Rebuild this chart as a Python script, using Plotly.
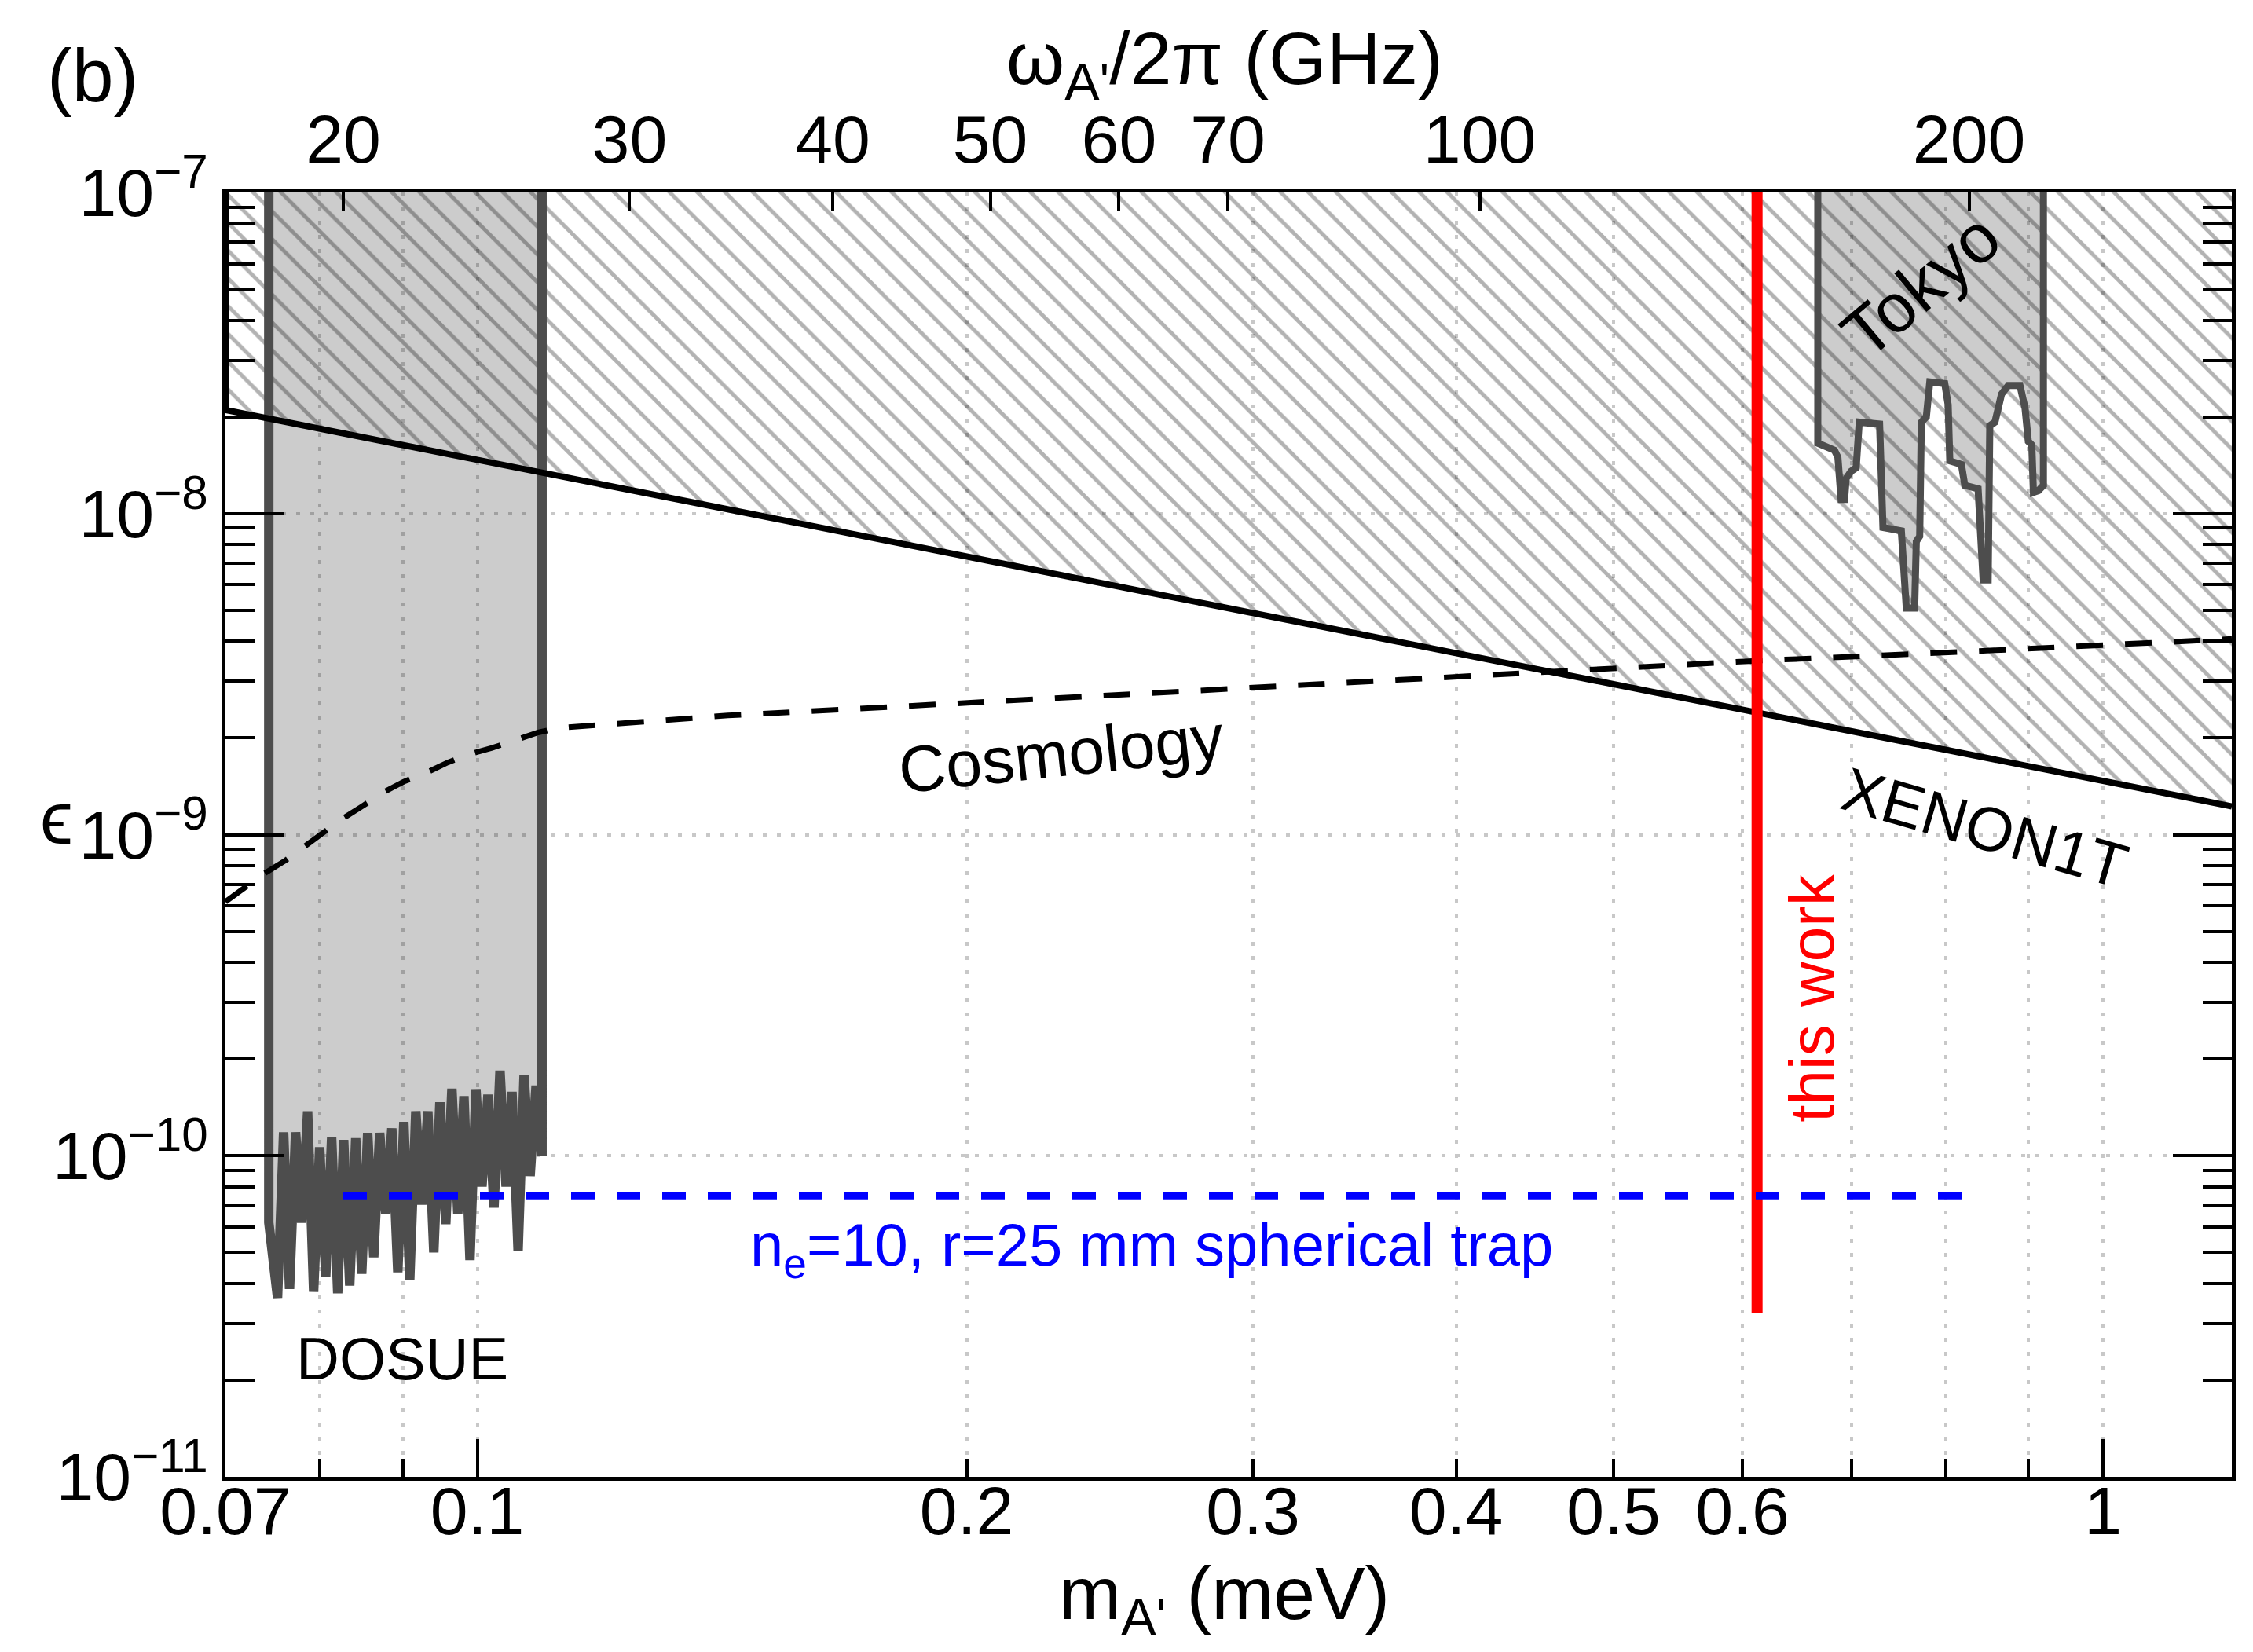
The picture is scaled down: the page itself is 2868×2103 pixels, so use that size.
import math
import plotly.graph_objects as go

FONT = "Liberation Sans, Arial, Helvetica, sans-serif"
GHZ_PER_MEV = 241.799

# ---------------- axes ----------------
mass_range = [0.07, 1.2]          # meV
eps_range = [1e-11, 1e-7]

mass_ticks = [0.07, 0.1, 0.2, 0.3, 0.4, 0.5, 0.6, 1.0]
mass_ticklabels = ["0.07", "0.1", "0.2", "0.3", "0.4", "0.5", "0.6", "1"]
mass_minor = [0.08, 0.09, 0.7, 0.8, 0.9]
mass_long_ticks = [0.1, 1.0]

freq_ticks = [20, 30, 40, 50, 60, 70, 100, 200]      # GHz
freq_ticklabels = ["20", "30", "40", "50", "60", "70", "100", "200"]

eps_ticks = [1e-11, 1e-10, 1e-9, 1e-8, 1e-7]
eps_ticklabels = ["10<sup>−11</sup>", "10<sup>−10</sup>", "10<sup>−9</sup>",
                  "10<sup>−8</sup>", "10<sup>−7</sup>"]
eps_minor_mult = [2, 3, 4, 5, 6, 7, 8, 9]
eps_decades = [1e-11, 1e-10, 1e-9, 1e-8]

# ---------------- data ----------------
# XENON1T limit (excluded region above)
xenon_m = [0.07, 0.1, 0.2, 0.3, 0.5, 0.7, 1.0, 1.2]
xenon_eps = [2.1e-8, 1.47e-8, 7.35e-9, 4.9e-9, 2.94e-9, 2.1e-9, 1.47e-9, 1.225e-9]

# Cosmology bound (dashed)
cosmo_m = [0.07, 0.0738, 0.0762, 0.0782, 0.0803, 0.0825, 0.085, 0.0874, 0.0901,
           0.093, 0.0959, 0.0987, 0.1021, 0.1054, 0.109, 0.1123, 0.1183, 0.1426,
           0.1993, 0.3008, 0.457, 0.613, 0.857, 1.2]
cosmo_eps = [6.18e-10, 7.52e-10, 8.31e-10, 9.16e-10, 1.016e-9, 1.116e-9, 1.227e-9,
             1.348e-9, 1.462e-9, 1.557e-9, 1.678e-9, 1.775e-9, 1.862e-9, 1.96e-9,
             2.08e-9, 2.15e-9, 2.19e-9, 2.35e-9, 2.57e-9, 2.88e-9, 3.21e-9, 3.48e-9,
             3.75e-9, 4.07e-9]

# DOSUE excluded region (noisy lower edge)
dosue_m = [0.07443, 0.07443,
           0.07536, 0.07601, 0.07665, 0.07731, 0.07797, 0.07864, 0.07931, 0.07999,
           0.08068, 0.08136, 0.08206, 0.08276, 0.08347, 0.08418, 0.08490, 0.08562,
           0.08636, 0.08709, 0.08784, 0.08860, 0.08935, 0.09012, 0.09088, 0.09166,
           0.09244, 0.09324, 0.09403, 0.09484, 0.09564, 0.09647, 0.09728, 0.09813,
           0.09897, 0.09981, 0.10067, 0.10152, 0.10240, 0.10327, 0.10416, 0.10504,
           0.10595, 0.10685, 0.10777, 0.10868,
           0.1096, 0.1096]
dosue_eps = [1e-7, 6.2e-11,
             3.61e-11, 1.183e-10, 3.85e-11, 1.183e-10, 6.19e-11, 1.375e-10, 3.77e-11,
             1.062e-10, 4.20e-11, 1.138e-10, 3.73e-11, 1.12e-10, 3.94e-11, 1.133e-10,
             4.29e-11, 1.178e-10, 4.83e-11, 1.178e-10, 6.61e-11, 1.216e-10, 4.34e-11,
             1.275e-10, 4.11e-11, 1.375e-10, 7.05e-11, 1.375e-10, 5.00e-11, 1.467e-10,
             6.13e-11, 1.616e-10, 6.61e-11, 1.532e-10, 4.73e-11, 1.61e-10, 8.02e-11,
             1.549e-10, 6.90e-11, 1.840e-10, 8.02e-11, 1.58e-10, 5.05e-11, 1.781e-10,
             8.65e-11, 1.652e-10,
             1.0e-10, 1e-7]

# Tokyo excluded region
tokyo_m = [0.6676, 0.6676, 0.6836, 0.6869, 0.6900, 0.6934, 0.6950, 0.6998, 0.7049,
           0.7065, 0.7080, 0.7287, 0.7304, 0.7322, 0.7515, 0.7568, 0.7658, 0.7676,
           0.7713, 0.7731, 0.7786, 0.7824, 0.7992, 0.8030, 0.8049, 0.8182, 0.8222,
           0.8378, 0.8438, 0.8498, 0.8518, 0.8580, 0.8661, 0.8744, 0.8890, 0.8954,
           0.8996, 0.9040, 0.9061, 0.9125, 0.9190, 0.9190]
tokyo_eps = [1e-7, 1.656e-8, 1.574e-8, 1.497e-8, 1.107e-8, 1.107e-8, 1.287e-8, 1.353e-8,
             1.388e-8, 1.83e-8, 1.925e-8, 1.90e-8, 1.001e-8, 9.05e-9, 8.83e-9, 5.08e-9,
             5.08e-9, 8.18e-9, 8.50e-9, 1.925e-8, 2.0e-8, 2.57e-8, 2.54e-8, 2.184e-8,
             1.459e-8, 1.423e-8, 1.224e-8, 1.194e-8, 6.21e-9, 6.21e-9, 1.877e-8,
             1.925e-8, 2.354e-8, 2.506e-8, 2.506e-8, 2.13e-8, 1.677e-8, 1.635e-8,
             1.164e-8, 1.179e-8, 1.224e-8, 1e-7]

# This work (red vertical line)
this_work_m = [0.6126, 0.6126]
this_work_eps = [3.23e-11, 1e-7]

# Projected sensitivity: n_e=10, r=25 mm spherical trap (20 - 200 GHz)
trap_freq = [20, 200]
trap_eps = [7.5e-11, 7.5e-11]

# ---------------- figure ----------------
fig = go.Figure()

DOSUE_GRAY = "#4d4d4d"

# DOSUE fill
fig.add_trace(go.Scatter(x=dosue_m, y=dosue_eps, mode="lines", fill="toself",
                         fillcolor="rgba(0,0,0,0.2)", line=dict(width=0),
                         hoverinfo="skip"))
# Tokyo fill
fig.add_trace(go.Scatter(x=tokyo_m, y=tokyo_eps, mode="lines", fill="toself",
                         fillcolor="rgba(0,0,0,0.2)", line=dict(width=0),
                         hoverinfo="skip"))
# XENON1T hatched region
xen_poly_m = [xenon_m[0]] + xenon_m + [xenon_m[-1]]
xen_poly_eps = [eps_range[1]] + xenon_eps + [eps_range[1]]
fig.add_trace(go.Scatter(x=xen_poly_m, y=xen_poly_eps, mode="lines", fill="toself",
                         fillcolor="rgba(0,0,0,0)", line=dict(width=0),
                         fillpattern=dict(shape="\\", size=25, solidity=0.2,
                                          fgcolor="black", fgopacity=0.3,
                                          bgcolor="rgba(0,0,0,0)"),
                         hoverinfo="skip"))
# DOSUE outline + noisy limit
fig.add_trace(go.Scatter(x=dosue_m, y=dosue_eps, mode="lines",
                         line=dict(color=DOSUE_GRAY, width=12), hoverinfo="skip"))
# Tokyo outline
fig.add_trace(go.Scatter(x=tokyo_m, y=tokyo_eps, mode="lines",
                         line=dict(color=DOSUE_GRAY, width=9), hoverinfo="skip"))
# XENON1T line
fig.add_trace(go.Scatter(x=[xenon_m[0]] + xenon_m, y=[eps_range[1]] + xenon_eps,
                         mode="lines", line=dict(color="black", width=8),
                         hoverinfo="skip"))
# Cosmology
fig.add_trace(go.Scatter(x=cosmo_m, y=cosmo_eps, mode="lines",
                         line=dict(color="black", width=7, dash="34px,28px"),
                         hoverinfo="skip"))
# This work (on top-axis subplot so it layers above)
fig.add_trace(go.Scatter(x=this_work_m, y=this_work_eps, mode="lines",
                         line=dict(color="#ff0000", width=14), xaxis="x2",
                         hoverinfo="skip"))
# Trap sensitivity
fig.add_trace(go.Scatter(x=[f / GHZ_PER_MEV for f in trap_freq], y=trap_eps,
                         mode="lines", line=dict(color="#0000ff", width=9,
                                                 dash="30px,28px"),
                         xaxis="x3", hoverinfo="skip"))

lr = [math.log10(mass_range[0]), math.log10(mass_range[1])]
yr = [math.log10(eps_range[0]), math.log10(eps_range[1])]
grid = dict(gridcolor="#c8c8c8", gridwidth=4, griddash="5px,13px")
tickfont = dict(family=FONT, size=86, color="black")

fig.update_layout(
    width=2868, height=2103,
    margin=dict(l=279, r=35, t=237, b=231),
    paper_bgcolor="white", plot_bgcolor="white",
    showlegend=False,
    font=dict(family=FONT, color="black"),
    xaxis=dict(type="log", range=lr, tickvals=mass_ticks, ticktext=mass_ticklabels,
               ticks="inside", ticklen=23, tickwidth=4, tickcolor="black",
               ticklabelstandoff=-35,
               showline=True, linewidth=5, linecolor="black", mirror=True,
               showgrid=True, **grid, zeroline=False, tickfont=tickfont,
               minor=dict(tickvals=mass_minor, ticks="inside", ticklen=23,
                          tickwidth=4, tickcolor="black", showgrid=True, **grid)),
    xaxis2=dict(type="log", range=lr, overlaying="x", side="top", anchor="y",
                tickvals=[f / GHZ_PER_MEV for f in freq_ticks], ticktext=freq_ticklabels,
                ticks="inside", ticklen=23, tickwidth=4, tickcolor="black",
                ticklabelstandoff=20,
                showline=False, showgrid=False, zeroline=False, tickfont=tickfont),
    xaxis3=dict(type="log", range=lr, overlaying="x", side="bottom", anchor="y",
                tickvals=mass_long_ticks, showticklabels=False,
                ticks="inside", ticklen=48, tickwidth=4, tickcolor="black",
                showline=False, showgrid=False, zeroline=False),
    yaxis=dict(type="log", range=yr, tickvals=eps_ticks, ticktext=eps_ticklabels,
               ticks="inside", ticklen=75, tickwidth=4, tickcolor="black",
               showline=True, linewidth=5, linecolor="black", mirror="ticks",
               showgrid=True, **grid, zeroline=False, tickfont=tickfont,
               minor=dict(tickvals=[k * d for d in eps_decades for k in eps_minor_mult],
                          ticks="inside", ticklen=37, tickwidth=4, tickcolor="black",
                          showgrid=False)),
)

L = math.log10
annotations = [
    dict(text="(b)", xref="paper", yref="paper", x=-0.0662, y=1.0911,
         font=dict(size=95)),
    dict(text="ω<sub>A'</sub>/2π (GHz)", xref="paper", yref="paper", x=0.498, y=1.1003,
         font=dict(size=95)),
    dict(text="m<sub>A'</sub> (meV)", xref="paper", yref="paper", x=0.498, y=-0.0948,
         font=dict(size=95)),
    dict(text="ϵ", xref="paper", yref="paper", x=-0.0842, y=0.5131,
         font=dict(size=95)),
    dict(text="Cosmology", xref="x", yref="y", x=L(0.2288), y=L(1.79e-9),
         textangle=-6, font=dict(size=83)),
    dict(text="XENON1T", xref="x", yref="y", x=L(0.846), y=L(1.05e-9),
         textangle=16, font=dict(size=79)),
    dict(text="this work", xref="x", yref="y", x=L(0.662), y=L(3.1e-10),
         textangle=-90, font=dict(size=80, color="#ff0000")),
    dict(text="Tokyo", xref="x", yref="y", x=L(0.772), y=L(5.14e-8),
         textangle=-40, font=dict(size=88)),
    dict(text="DOSUE", xref="x", yref="y", x=L(0.0899), y=L(2.33e-11),
         font=dict(size=76)),
    dict(text="n<sub>e</sub>=10, r=25 mm spherical trap", xref="x", yref="y",
         x=L(0.26), y=L(5.12e-11), font=dict(size=76, color="#0000ff")),
]
for a in annotations:
    a.setdefault("showarrow", False)
    a.setdefault("xanchor", "center")
    a.setdefault("yanchor", "middle")
    a["font"].setdefault("family", FONT)
    a["font"].setdefault("color", "black")
    fig.add_annotation(**a)

fig.write_html("out.html")
